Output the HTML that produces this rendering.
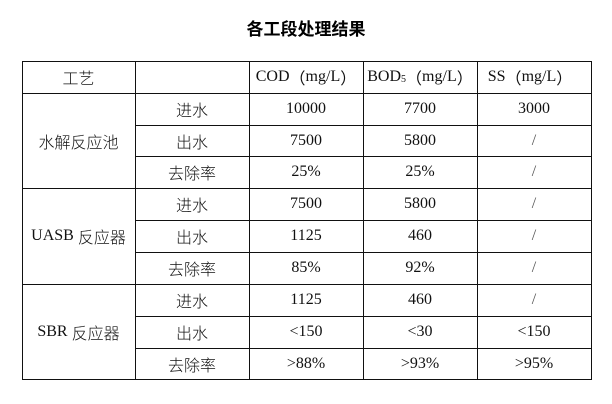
<!DOCTYPE html>
<html><head><meta charset="utf-8">
<style>
html,body{margin:0;padding:0;background:#fff;}
body{width:612px;height:404px;position:relative;overflow:hidden;font-family:"Liberation Serif","Noto Sans CJK SC",serif;color:#111;}
.v{position:absolute;width:1px;background:#111;}
.h{position:absolute;height:1px;background:#111;}
.c{position:absolute;display:flex;align-items:center;justify-content:center;font-size:16px;white-space:nowrap;}
.cjk{font-family:"Noto Sans CJK SC","WenQuanYi Zen Hei",sans-serif;font-weight:300;}
.title{position:absolute;left:0;width:612px;top:16px;text-align:center;font-family:"Noto Sans CJK SC",sans-serif;font-weight:bold;font-size:17px;line-height:24px;color:#000;}
.s5{font-size:10px;position:relative;top:2px;}
</style></head><body>
<div class="title">各工段处理结果</div>

<!-- vertical lines -->
<div class="v" style="left:22px;top:61px;height:319px"></div>
<div class="v" style="left:135px;top:61px;height:319px"></div>
<div class="v" style="left:249px;top:61px;height:319px"></div>
<div class="v" style="left:363px;top:61px;height:319px"></div>
<div class="v" style="left:477px;top:61px;height:319px"></div>
<div class="v" style="left:591px;top:61px;height:319px"></div>

<!-- full horizontal lines -->
<div class="h" style="left:22px;top:61px;width:570px"></div>
<div class="h" style="left:22px;top:93px;width:570px"></div>
<div class="h" style="left:22px;top:188px;width:570px"></div>
<div class="h" style="left:22px;top:284px;width:570px"></div>
<div class="h" style="left:22px;top:379px;width:570px"></div>
<!-- partial horizontal lines -->
<div class="h" style="left:135px;top:125px;width:457px"></div>
<div class="h" style="left:135px;top:156px;width:457px"></div>
<div class="h" style="left:135px;top:220px;width:457px"></div>
<div class="h" style="left:135px;top:252px;width:457px"></div>
<div class="h" style="left:135px;top:316px;width:457px"></div>
<div class="h" style="left:135px;top:348px;width:457px"></div>

<!-- header -->
<div class="c cjk" style="left:22px;width:113px;top:61px;height:32px">工艺</div>
<div class="c" style="left:249px;width:114px;top:61px;height:32px">COD<span class="cjk" style="font-weight:400">（</span>mg/L<span class="cjk" style="font-weight:400">）</span></div>
<div class="c" style="left:363px;width:114px;top:61px;height:32px">BOD<span class="s5">5</span><span class="cjk" style="font-weight:400">（</span>mg/L<span class="cjk" style="font-weight:400">）</span></div>
<div class="c" style="left:477px;width:114px;top:61px;height:32px;padding-right:8px;box-sizing:border-box">SS<span class="cjk" style="font-weight:400">（</span>mg/L<span class="cjk" style="font-weight:400">）</span></div>

<!-- group labels -->
<div class="c cjk" style="left:22px;width:113px;top:93px;height:95px">水解反应池</div>
<div class="c" style="left:22px;width:113px;top:188px;height:96px">UASB&nbsp;<span class="cjk">反应器</span></div>
<div class="c" style="left:22px;width:113px;top:284px;height:95px">SBR&nbsp;<span class="cjk">反应器</span></div>

<!-- row labels -->
<div class="c cjk" style="left:135px;width:114px;top:93px;height:32px">进水</div>
<div class="c cjk" style="left:135px;width:114px;top:125px;height:31px">出水</div>
<div class="c cjk" style="left:135px;width:114px;top:156px;height:32px">去除率</div>
<div class="c cjk" style="left:135px;width:114px;top:188px;height:32px">进水</div>
<div class="c cjk" style="left:135px;width:114px;top:220px;height:32px">出水</div>
<div class="c cjk" style="left:135px;width:114px;top:252px;height:32px">去除率</div>
<div class="c cjk" style="left:135px;width:114px;top:284px;height:32px">进水</div>
<div class="c cjk" style="left:135px;width:114px;top:316px;height:32px">出水</div>
<div class="c cjk" style="left:135px;width:114px;top:348px;height:31px">去除率</div>

<!-- COD -->
<div class="c" style="left:249px;width:114px;top:93px;height:32px">10000</div>
<div class="c" style="left:249px;width:114px;top:125px;height:31px">7500</div>
<div class="c" style="left:249px;width:114px;top:156px;height:32px">25%</div>
<div class="c" style="left:249px;width:114px;top:188px;height:32px">7500</div>
<div class="c" style="left:249px;width:114px;top:220px;height:32px">1125</div>
<div class="c" style="left:249px;width:114px;top:252px;height:32px">85%</div>
<div class="c" style="left:249px;width:114px;top:284px;height:32px">1125</div>
<div class="c" style="left:249px;width:114px;top:316px;height:32px">&lt;150</div>
<div class="c" style="left:249px;width:114px;top:348px;height:31px">&gt;88%</div>

<!-- BOD -->
<div class="c" style="left:363px;width:114px;top:93px;height:32px">7700</div>
<div class="c" style="left:363px;width:114px;top:125px;height:31px">5800</div>
<div class="c" style="left:363px;width:114px;top:156px;height:32px">25%</div>
<div class="c" style="left:363px;width:114px;top:188px;height:32px">5800</div>
<div class="c" style="left:363px;width:114px;top:220px;height:32px">460</div>
<div class="c" style="left:363px;width:114px;top:252px;height:32px">92%</div>
<div class="c" style="left:363px;width:114px;top:284px;height:32px">460</div>
<div class="c" style="left:363px;width:114px;top:316px;height:32px">&lt;30</div>
<div class="c" style="left:363px;width:114px;top:348px;height:31px">&gt;93%</div>

<!-- SS -->
<div class="c" style="left:477px;width:114px;top:93px;height:32px">3000</div>
<div class="c" style="left:477px;width:114px;top:125px;height:31px;color:#555">/</div>
<div class="c" style="left:477px;width:114px;top:156px;height:32px;color:#555">/</div>
<div class="c" style="left:477px;width:114px;top:188px;height:32px;color:#555">/</div>
<div class="c" style="left:477px;width:114px;top:220px;height:32px;color:#555">/</div>
<div class="c" style="left:477px;width:114px;top:252px;height:32px;color:#555">/</div>
<div class="c" style="left:477px;width:114px;top:284px;height:32px;color:#555">/</div>
<div class="c" style="left:477px;width:114px;top:316px;height:32px">&lt;150</div>
<div class="c" style="left:477px;width:114px;top:348px;height:31px">&gt;95%</div>
</body></html>
